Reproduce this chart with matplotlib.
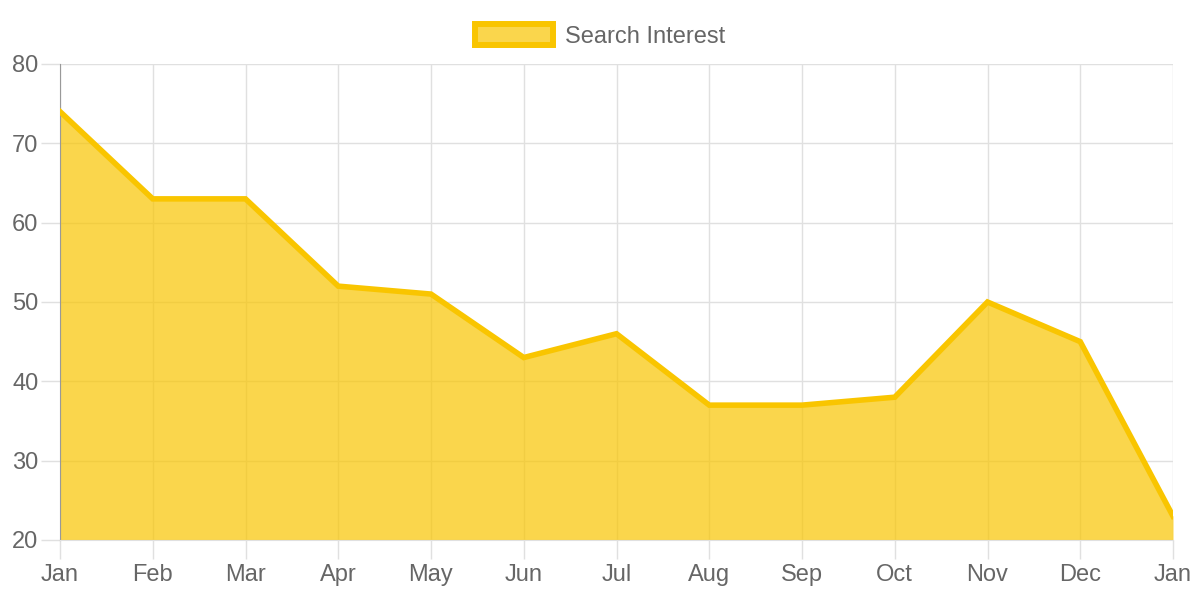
import matplotlib.pyplot as plt
from matplotlib.patches import Patch

plt.rcParams['font.family'] = ['Liberation Sans', 'DejaVu Sans']

# Data
months = ['Jan', 'Feb', 'Mar', 'Apr', 'May', 'Jun', 'Jul', 'Aug', 'Sep', 'Oct', 'Nov', 'Dec', 'Jan']
interest = [74, 63, 63, 52, 51, 43, 46, 37, 37, 38, 50, 45, 23]
yticks = [20, 30, 40, 50, 60, 70, 80]

line_color = '#F9C500'
fill_color = (249 / 255, 197 / 255, 0, 0.7)
grid_color = '#e0e0e0'
text_color = '#666666'

fig = plt.figure(figsize=(12, 6), dpi=100)
ax = fig.add_axes([60 / 1200, 60 / 600, 1113 / 1200, 476 / 600])

x = list(range(len(months)))
ax.fill_between(x, interest, 20, color=fill_color, linewidth=0, zorder=2)
ax.plot(x, interest, color=line_color, linewidth=4, solid_joinstyle='miter', zorder=3)

ax.set_xlim(0, len(months) - 1)
ax.set_ylim(20, 80)
ax.set_xticks(x)
ax.set_xticklabels(months)
ax.set_yticks(yticks)

ax.grid(True, color=grid_color, linewidth=1, zorder=1)
ax.set_axisbelow(True)
for side in ['top', 'right']:
    ax.spines[side].set_visible(False)
ax.spines['left'].set_color('#999999')
ax.spines['bottom'].set_color(grid_color)
ax.tick_params(axis='both', colors=grid_color, labelcolor=text_color,
               labelsize=17, length=14, width=1)
ax.tick_params(axis='x', pad=3)
ax.tick_params(axis='y', pad=1.5)

leg = fig.legend(handles=[Patch(facecolor=fill_color, edgecolor=line_color, linewidth=4.3,
                                label='Search Interest')],
                 loc='upper center', bbox_to_anchor=(0.5, 0.995), frameon=False,
                 fontsize=17, handlelength=3.3, handleheight=1.0, handletextpad=0.5)
for t in leg.get_texts():
    t.set_color(text_color)

fig.savefig('out.png', dpi=100)
